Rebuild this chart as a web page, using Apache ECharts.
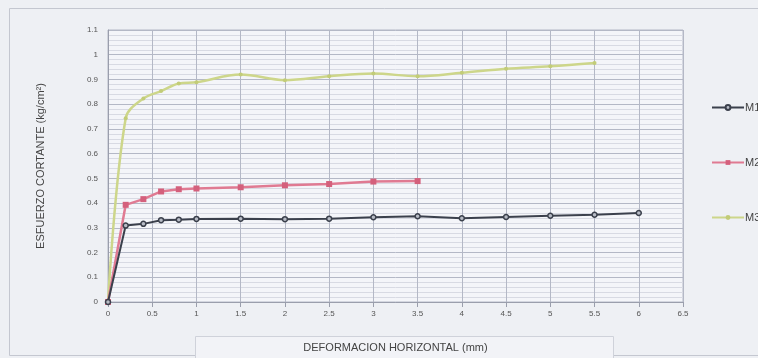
<!DOCTYPE html>
<html>
<head>
<meta charset="utf-8">
<script src="https://cdn.jsdelivr.net/npm/echarts@6/dist/echarts.min.js"></script>
<style>html,body{margin:0;padding:0;background:#eef0f4;}#c{width:758px;height:358px;}</style>
</head>
<body>
<div id="c"></div>
<script>
const seriesNames = ['M1', 'M2', 'M3'];
const xM1 = [0, 0.2, 0.4, 0.6, 0.8, 1, 1.5, 2, 2.5, 3, 3.5, 4, 4.5, 5, 5.5, 6];
const yM1 = [0, 0.309, 0.316, 0.331, 0.333, 0.336, 0.337, 0.335, 0.337, 0.343, 0.347, 0.339, 0.344, 0.349, 0.353, 0.36];
const xM2 = [0, 0.2, 0.4, 0.6, 0.8, 1, 1.5, 2, 2.5, 3, 3.5];
const yM2 = [0, 0.393, 0.416, 0.447, 0.456, 0.459, 0.464, 0.472, 0.477, 0.487, 0.489];
const xM3 = [0, 0.2, 0.4, 0.6, 0.8, 1, 1.5, 2, 2.5, 3, 3.5, 4, 4.5, 5, 5.5];
const yM3 = [0, 0.743, 0.823, 0.853, 0.884, 0.889, 0.92, 0.897, 0.913, 0.924, 0.913, 0.927, 0.943, 0.953, 0.967];
const xTitle = 'DEFORMACION HORIZONTAL (mm)';
const yTitle = 'ESFUERZO CORTANTE (kg/cm²)';

const pair = (xs, ys) => xs.map((x, i) => [x, ys[i]]);

const chart = echarts.init(document.getElementById('c'), null, {renderer: 'canvas'});
chart.setOption({
  backgroundColor: '#eef0f4',
  animation: false,
  textStyle: {fontFamily: 'Liberation Sans, Arial, sans-serif'},
  grid: {left: 108, top: 30, right: 75, bottom: 53, show: true, backgroundColor: '#f4f5f9', borderColor: '#b4b8c6', borderWidth: 1},
  graphic: [
    {type: 'rect', z: -10, shape: {x: 9.5, y: 8.5, width: 770, height: 347}, style: {fill: 'none', stroke: '#c4c7d0', lineWidth: 1}},
    {type: 'rect', z: -10, shape: {x: 195.5, y: 336.5, width: 418, height: 30}, style: {fill: '#f2f3f7', stroke: '#cfd2da', lineWidth: 1}}
  ],
  legend: {
    orient: 'vertical', left: 706, top: 97, itemGap: 44, itemWidth: 32, itemHeight: 6,
    data: seriesNames,
    textStyle: {fontSize: 11, color: '#444', padding: [0, 0, 0, -4]}
  },
  xAxis: {
    type: 'value', min: 0, max: 6.5, interval: 0.5,
    name: xTitle, nameLocation: 'middle', nameGap: 40,
    nameTextStyle: {fontSize: 11, color: '#444'},
    axisLine: {show: true, lineStyle: {color: '#9a9eac'}},
    axisTick: {show: true, length: 5, lineStyle: {color: '#9a9eac'}},
    axisLabel: {fontSize: 8, color: '#555', margin: 8},
    splitLine: {show: true, lineStyle: {color: '#b4b8c6', width: 1}}
  },
  yAxis: {
    type: 'value', min: 0, max: 1.1, interval: 0.1,
    name: yTitle, nameLocation: 'middle', nameGap: 62,
    nameTextStyle: {fontSize: 11, color: '#444'},
    axisLine: {show: true, lineStyle: {color: '#9a9eac'}},
    axisTick: {show: false},
    axisLabel: {fontSize: 8, color: '#555', margin: 10},
    splitLine: {show: true, lineStyle: {color: '#b4b8c6', width: 1}},
    minorTick: {show: false, splitNumber: 5},
    minorSplitLine: {show: true, lineStyle: {color: '#d8dae3', width: 1}}
  },
  series: [
    {name: 'M1', type: 'line', data: pair(xM1, yM1), symbol: 'circle', symbolSize: 5,
     itemStyle: {color: '#b8bcc6', borderColor: '#3b404c', borderWidth: 1.5},
     lineStyle: {color: '#3b404c', width: 2}, color: '#3b404c', z: 4},
    {name: 'M2', type: 'line', data: pair(xM2, yM2), symbol: 'rect', symbolSize: 6,
     itemStyle: {color: '#d4607c'}, lineStyle: {color: '#e07a92', width: 2.5}, color: '#d4607c', z: 3},
    {name: 'M3', type: 'line', data: pair(xM3, yM3), smooth: 0.35, symbol: 'circle', symbolSize: 4,
     itemStyle: {color: '#c2cc78'}, lineStyle: {color: '#cdd68a', width: 2.5}, color: '#c2cc78', z: 2}
  ]
});
</script>
</body>
</html>
